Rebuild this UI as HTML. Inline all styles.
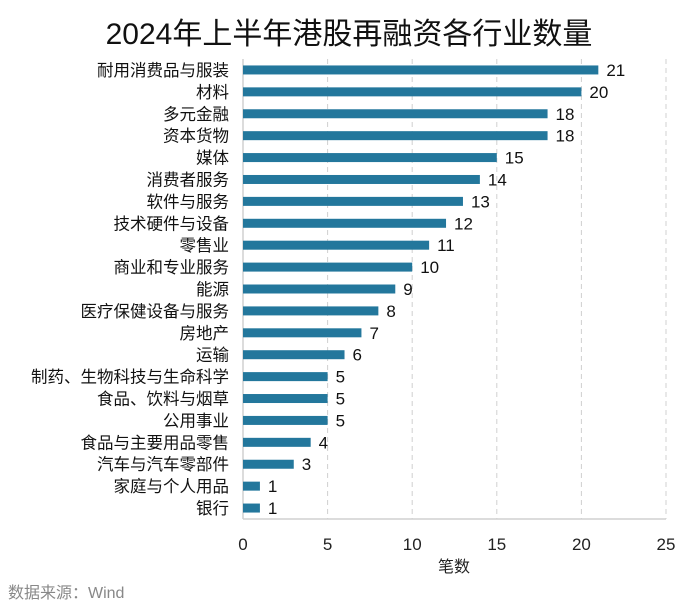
<!DOCTYPE html>
<html><head><meta charset="utf-8"><style>
body{margin:0;background:#fff;}
svg text{font-family:"Liberation Sans","Noto Sans CJK SC",sans-serif;}
</style></head><body>
<svg id="c" width="700" height="606" xmlns="http://www.w3.org/2000/svg">
<text x="349" y="44" text-anchor="middle" font-size="30" fill="#111">2024年上半年港股再融资各行业数量</text>
<g id="grid"></g><g id="bars"></g><g id="labels"></g><g id="ticks"></g>
<text x="454" y="572" text-anchor="middle" font-size="16" fill="#222">笔数</text>
<text x="8" y="598" font-size="16" fill="#888">数据来源：Wind</text>
</svg>
<script>
const categories=["耐用消费品与服装","材料","多元金融","资本货物","媒体","消费者服务","软件与服务","技术硬件与设备","零售业","商业和专业服务","能源","医疗保健设备与服务","房地产","运输","制药、生物科技与生命科学","食品、饮料与烟草","公用事业","食品与主要用品零售","汽车与汽车零部件","家庭与个人用品","银行"];
const values=[21,20,18,18,15,14,13,12,11,10,9,8,7,6,5,5,5,4,3,1,1];
const tickLabels=[0,5,10,15,20,25];
const NS="http://www.w3.org/2000/svg";
const x0=243,x1=666,plotTop=59,plotBottom=519,xmax=25;
const xs=v=>x0+(v/xmax)*(x1-x0);
const band=(plotBottom-plotTop)/categories.length;
const ys=i=>plotTop+band*(i+0.5);
function mk(t,a,p){const e=document.createElementNS(NS,t);for(const k in a)e.setAttribute(k,a[k]);p.appendChild(e);return e;}
const g=document.getElementById('grid'),b=document.getElementById('bars'),l=document.getElementById('labels'),tk=document.getElementById('ticks');
tickLabels.forEach(t=>{
 if(t>0){const ln=mk('line',{x1:xs(t),x2:xs(t),y1:plotTop,y2:plotBottom,stroke:'#d0d0d0','stroke-dasharray':'5,4'},g);
 
 }
 const tx=mk('text',{x:xs(t),y:550,'text-anchor':'middle','font-size':'17',fill:'#222'},tk);
 tx.textContent=t;
 
 
});
const ax=mk('line',{x1:x0,x2:x0,y1:plotTop,y2:plotBottom,stroke:'#d0d0d0','stroke-width':1.5},g);


const bx=mk('line',{x1:x0,x2:x1,y1:plotBottom,y2:plotBottom,stroke:'#d0d0d0','stroke-width':1.5},g);


categories.forEach((c,i)=>{
 const y=ys(i),v=values[i];
 const r=mk('rect',{x:x0,y:y-4.5,width:xs(v)-x0,height:9,fill:'#23779c'},b);
 
 
 const vt=mk('text',{x:xs(v)+8,y:y+6,'font-size':'17',fill:'#111'},l);
 vt.textContent=v;
 
 
 const ct=mk('text',{x:229,y:y+6,'text-anchor':'end','font-size':'16.5',fill:'#111'},l);
 ct.textContent=c;
 
 
});
</script>
</body></html>
